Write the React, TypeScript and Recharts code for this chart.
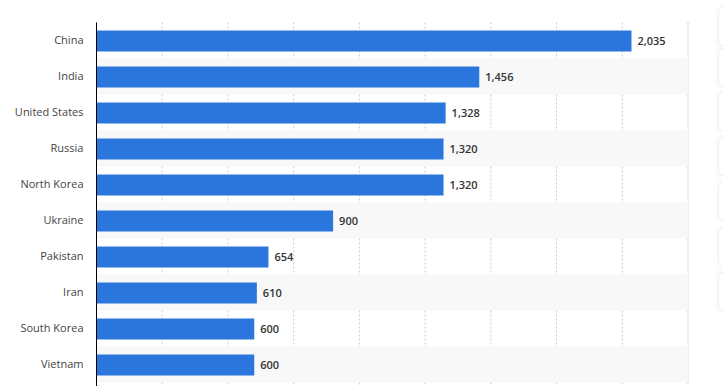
import React from "react";
import {
  BarChart,
  Bar,
  XAxis,
  YAxis,
  CartesianGrid,
  LabelList,
  ReferenceArea,
} from "recharts";

const countries = [
  "China",
  "India",
  "United States",
  "Russia",
  "North Korea",
  "Ukraine",
  "Pakistan",
  "Iran",
  "South Korea",
  "Vietnam",
];
const values = [2035, 1456, 1328, 1320, 1320, 900, 654, 610, 600, 600];
const xTicks = [0, 250, 500, 750, 1000, 1250, 1500, 1750, 2000, 2250];

const data = countries.map((name, i) => ({ name, value: values[i] }));
const stripedRows = countries.filter((_, i) => i % 2 === 1);

const sideBoxes = [7, 48, 92, 137, 182, 227, 272];

const EmptyTick = () => <g />;

export default function App() {
  return (
    <div
      style={{
        position: "absolute",
        left: 0,
        top: 0,
        width: 723,
        height: 386,
        overflow: "hidden",
        background: "#fff",
      }}
    >
      <BarChart
        width={723}
        height={420}
        data={data}
        layout="vertical"
        margin={{ top: 22.5, right: 35, bottom: 0, left: 0 }}
        barSize={21}
      >
        {stripedRows.map((c) => (
          <ReferenceArea
            key={c}
            y1={c}
            y2={c}
            fill="#f8f8f8"
            fillOpacity={1}
            stroke="none"
            ifOverflow="visible"
          />
        ))}
        <CartesianGrid
          horizontal={false}
          vertical={true}
          stroke="#c8c8c8"
          strokeDasharray="2 2"
        />
        <XAxis
          type="number"
          domain={[0, 2250]}
          ticks={xTicks}
          interval={0}
          tick={EmptyTick}
          axisLine={false}
          tickLine={false}
          height={28}
        />
        <YAxis
          type="category"
          dataKey="name"
          width={96.5}
          padding={{ top: 0, bottom: 9.5 }}
          axisLine={{ stroke: "#000", strokeWidth: 1 }}
          tickLine={false}
          tickMargin={7}
          tick={{
            fill: "#444",
            fontSize: 11,
            fontFamily: "Open Sans, sans-serif",
          }}
        />
        <Bar dataKey="value" fill="#2a76dd" isAnimationActive={false}>
          <LabelList
            dataKey="value"
            position="right"
            offset={6}
            formatter={(v: number) => v.toLocaleString("en-US")}
            style={{
              fill: "#333",
              fontSize: 11,
              fontWeight: 600,
              fontFamily: "Open Sans, sans-serif",
            }}
          />
        </Bar>
      </BarChart>
      {sideBoxes.map((y) => (
        <div
          key={y}
          style={{
            position: "absolute",
            left: 718,
            top: y,
            width: 30,
            height: 37,
            borderRadius: 5,
            background: "#fff",
            boxShadow: "0 0 6px rgba(0,0,0,0.06)",
            border: "1px solid #f0f0f2",
          }}
        />
      ))}
    </div>
  );
}
